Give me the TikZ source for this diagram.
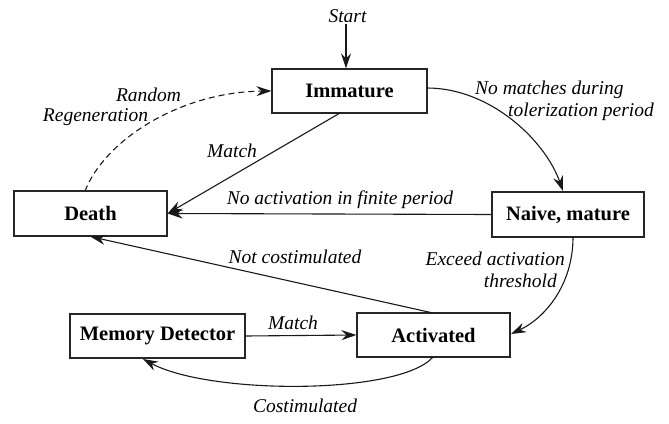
\documentclass[tikz,border=0pt]{standalone}
\usepackage{fontspec}
\setmainfont{Liberation Serif}
\usetikzlibrary{arrows.meta}
\tikzset{
  statebox/.style={draw=black!85, line width=1.2pt, fill=white, inner sep=0pt, font=\fontsize{20.5}{24}\selectfont\bfseries},
  lbl/.style={font=\fontsize{19.5}{22}\selectfont\itshape, inner sep=1pt},
  conn/.style={line width=1.1pt, draw=black!90, -{Stealth[length=15pt,width=10pt,inset=5pt]}},
}
\begin{document}
\begin{tikzpicture}[x=1pt,y=-1pt]
\useasboundingbox (0,0) rectangle (669,423);
% states
\node[statebox, minimum width=155pt, minimum height=44pt] (imm) at (349.5,91) {Immature};
\node[statebox, minimum width=153pt, minimum height=45pt] (death) at (90.5,213.5) {Death};
\node[statebox, minimum width=152pt, minimum height=45pt] (naive) at (568,214.5) {Naive, mature};
\node[statebox, minimum width=153pt, minimum height=44pt] (act) at (433.5,335) {Activated};
\node[statebox, minimum width=175pt, minimum height=44pt] (mem) at (157.5,336) {Memory Detector};
% start
\node[lbl] (start) at (347.5,16) {Start};
\draw[conn] (start.south -| 346,0) -- (imm.north -| 346,0);
% immature -> naive
\coordinate (i1) at (427,88);
\coordinate (n1) at (563,191);
\draw[conn] (i1) .. controls (490,88) and (545,140) .. (n1);
\node[lbl, align=left, anchor=west] (l1) at (474,101) {No matches during\\\hspace*{33pt}tolerization period};
% immature -> death (match)
\coordinate (i2) at (340,113);
\draw[conn] (i2) -- (death.east);
\node[lbl] (l2) at (232,151) {Match};
% naive -> death
\draw[conn] (naive.west) -- (death.east);
\node[lbl] (l3) at (340,200) {No activation in finite period};
% death -> immature dashed
\coordinate (d1) at (85,191);
\draw[conn, dashed, dash pattern=on 6pt off 4pt] (d1) .. controls (105,140) and (180,92) .. (imm.west);
\node[lbl] (l4a) at (148.5,95) {Random};
\node[lbl] (l4b) at (95.5,117) {Regeneration};
% activated -> death
\coordinate (a1) at (433,313);
\draw[conn] (a1) -- (death.south);
\node[lbl] (l5) at (295,257) {Not costimulated};
% naive -> activated
\coordinate (n2) at (573,237);
\coordinate (a2) at (511,334);
\draw[conn] (n2) .. controls (573,285) and (545,318) .. (a2);
\node[lbl, align=right, anchor=east] (l6) at (566,270) {Exceed activation\\threshold\hspace*{8pt}};
% memory -> activated
\draw[conn] (mem.east) -- (act.west);
\node[lbl] (l7) at (293,323) {Match};
% activated -> memory
\coordinate (a3) at (433,357);
\coordinate (m1) at (143,359);
\draw[conn] (a3) .. controls (400,395) and (210,395) .. (m1);
\node[lbl] (l8) at (305,406) {Costimulated};
\end{tikzpicture}
\end{document}
